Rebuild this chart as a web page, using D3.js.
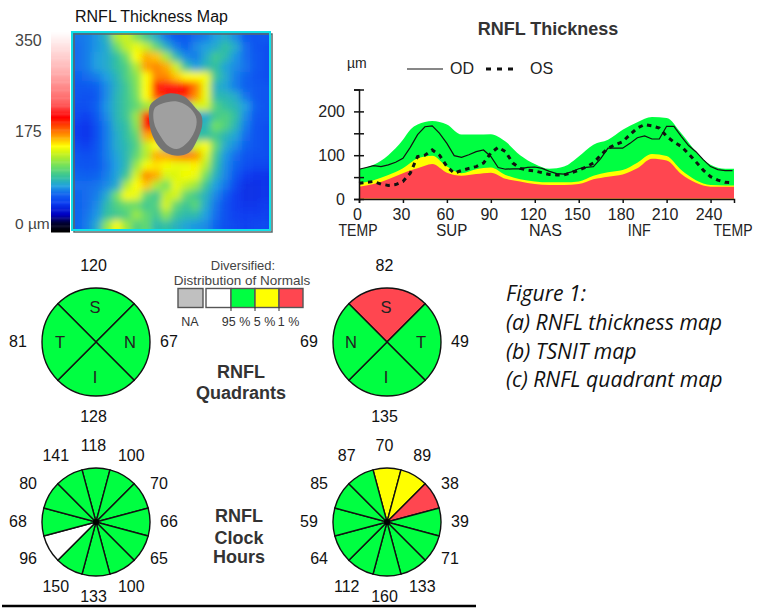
<!DOCTYPE html>
<html>
<head>
<meta charset="utf-8">
<style>
  html, body { margin: 0; padding: 0; background: #fff; }
  text { font-family: "Liberation Sans", Arial, sans-serif; fill: #111; }
</style>
</head>
<body>
<div id="chart"></div>
<script src="https://cdn.jsdelivr.net/npm/d3@7"></script>
<script>
// thickness map, um, read on a 20 x 20 grid
var mapValues = [
  [70,72,78,90,130,138,118,100,85,70,62,62,68,72,80,85,75,62,60,62],
  [68,72,78,85,112,135,145,135,110,88,72,65,75,80,85,95,85,68,60,58],
  [68,72,80,85,95,115,150,165,160,128,92,75,72,85,100,92,78,68,62,58],
  [68,72,80,85,95,105,130,168,172,165,138,95,80,90,95,82,75,70,62,58],
  [65,68,72,80,90,105,120,150,172,172,160,150,150,148,98,85,72,66,60,58],
  [62,62,65,75,88,100,118,150,195,205,205,200,175,145,88,82,72,65,62,60],
  [60,58,62,75,90,100,115,150,185,195,195,190,170,145,92,90,85,70,62,60],
  [58,58,65,78,90,100,110,125,130,100,100,100,140,140,105,95,90,80,65,60],
  [55,52,62,75,90,100,125,200,200,100,100,100,85,85,100,105,95,75,62,60],
  [50,48,58,72,88,95,120,200,200,100,100,100,90,90,115,105,90,72,60,58],
  [50,48,58,72,85,95,110,165,165,100,100,100,95,95,100,90,82,68,60,58],
  [55,52,60,72,85,92,105,135,150,100,100,100,140,150,110,85,75,65,60,58],
  [60,58,62,72,82,92,110,132,165,165,170,175,170,142,100,78,68,60,58,58],
  [62,60,62,70,80,92,125,148,155,148,145,145,152,132,95,75,66,58,54,54],
  [66,64,66,72,82,100,140,172,165,140,142,148,145,115,88,74,60,50,48,48],
  [68,68,70,75,85,130,150,160,130,115,145,135,125,98,80,70,56,46,46,48],
  [66,68,72,85,115,148,145,110,100,135,140,110,100,88,74,62,50,46,46,48],
  [66,68,75,92,105,112,112,100,105,140,110,98,108,85,70,58,50,48,48,50],
  [66,70,78,95,100,105,125,110,100,120,98,92,92,80,68,58,52,50,50,52],
  [66,72,85,122,148,125,105,110,92,95,88,82,78,75,66,58,54,52,54,56]
];
// optic disc outline in grid units
var discOuter = [[7.8,7.7],[8.5,6.8],[9.8,6.2],[11.3,6.5],[12.5,7.7],[13.1,8.5],[13.1,9.7],[12.5,11.2],[11.8,12.2],[10.7,12.5],[9.5,12.2],[8.5,11.2],[7.9,9.7]];
var discInner = [[8.3,7.8],[9.2,7.2],[10.5,7],[11.7,7.5],[12.5,8.5],[12.5,9.7],[11.8,11],[10.7,11.8],[9.7,11.5],[8.8,10.3],[8.3,9.2]];

var heatStops = [0,15,30,50,65,80,95,115,135,150,170,200,225,280,350];
var heatColors = ["#000000","#000030","#0000c0","#0a3cf0","#1060f0","#20a0e0","#30c0a0","#70e060","#c0f020","#ffff00","#ff9000","#ff0000","#ff6060","#ffb0b0","#ffffff"];
var heatTicks = [350,175,0];

// TSNIT profile, sampled every 10 units, last sample at 256
var bandX = [0,10,20,30,35,40,50,60,70,80,90,100,110,120,130,140,150,160,170,180,190,200,210,220,230,240,250,256];
var green = [68,78,100,135,158,170,178,170,147,147,148,131,100,80,69,74,97,124,135,158,175,187,185,150,108,78,69,69];
var yellow = [36,43,55,70,82,93,99,74,59,68,72,55,45,40,38,38,40,53,61,66,83,103,98,66,43,32,31,31];
var red = [28,34,45,59,65,70,80,60,53,57,60,46,40,34,32,32,34,45,51,56,70,92,88,57,37,28,28,28];

var lineX = d3.range(0, 256, 5);
var od = [68,72,76,74,78,84,93,118,147,165,167,150,127,99,95,101,108,112,97,72,68,69,69,72,73,70,63,58,57,62,69,72,74,92,116,116,116,127,140,144,137,137,166,166,143,122,108,90,74,67,65,65];
var os = [36,38,40,34,31,33,40,59,97,100,112,100,74,59,65,70,74,82,105,118,108,82,70,66,64,60,56,55,55,60,66,73,82,100,116,124,131,147,162,170,167,162,143,130,120,103,85,66,51,43,38,37];

var xTicks = [0,30,60,90,120,150,180,210,240];
var yTicks = [0,50,100,150,200,250];
var yLabels = [0,100,200];
var regions = ["TEMP","SUP","NAS","INF","TEMP"];
var regionX = [0,64,128,192,256];
var regionWidths = [39,31,33,23,39];

// quadrants: S, N side, I, T side going clockwise from the top
var quadLeftNames = ["S","N","I","T"];
var quadLeftValues = [120,67,128,81];
var quadLeftClass = ["g","g","g","g"];
var quadRightNames = ["S","T","I","N"];
var quadRightValues = [82,49,135,69];
var quadRightClass = ["r","g","g","g"];

// clock hours, clockwise from 12
var clockLeftValues = [118,100,70,66,65,100,133,150,96,68,80,141];
var clockLeftClass = ["g","g","g","g","g","g","g","g","w","g","g","g"];
var clockRightValues = [70,89,38,39,71,133,160,112,64,59,85,87];
var clockRightClass = ["y","y","r","g","g","g","g","g","g","g","g","g"];

var classColor = {g: "#00ff41", y: "#ffff00", r: "#ff4650", w: "#ffffff", n: "#c0c0c0"};
var legendClass = ["n","w","g","y","r"];
var legendLabels = ["NA","95 %","5 %","1 %"];

var figureNotes = ["Figure 1:","(a) RNFL thickness map","(b) TSNIT map","(c) RNFL quadrant map"];

var width = 774, height = 609;
var svg = d3.select("#chart").append("svg")
  .attr("width", width).attr("height", height)
  .style("display", "block");

function label(sel, x, y, txt, size, anchor, weight, color) {
  return sel.append("text")
    .attr("x", x).attr("y", y)
    .attr("font-size", size)
    .attr("text-anchor", anchor || "start")
    .attr("font-weight", weight || "normal")
    .style("fill", color || "#111")
    .text(txt);
}

// ---- thickness map ----
var heat = d3.scaleLinear().domain(heatStops).range(heatColors);
var gx = d3.scaleLinear().domain([0, 20]).range([72, 270]);
var gy = d3.scaleLinear().domain([0, 20]).range([32, 230]);

var defs = svg.append("defs");
defs.append("filter").attr("id", "soft")
  .attr("x", "-10%").attr("y", "-10%").attr("width", "120%").attr("height", "120%")
  .append("feGaussianBlur").attr("stdDeviation", 3.5);
defs.append("clipPath").attr("id", "mapClip")
  .append("rect").attr("x", gx(0)).attr("y", gy(0)).attr("width", gx(20) - gx(0)).attr("height", gy(20) - gy(0));

label(svg, 75, 22, "RNFL Thickness Map", 16);

var mapG = svg.append("g").attr("clip-path", "url(#mapClip)")
  .append("g").attr("filter", "url(#soft)");
// one extra ring of cells so the blur does not fade at the frame
d3.range(-2, 22).forEach(function(r) {
  d3.range(-2, 22).forEach(function(c) {
    var rr = Math.max(0, Math.min(19, r)), cc = Math.max(0, Math.min(19, c));
    mapG.append("rect")
      .attr("x", gx(c)).attr("y", gy(r))
      .attr("width", gx(c + 1) - gx(c) + 0.5).attr("height", gy(r + 1) - gy(r) + 0.5)
      .attr("fill", heat(mapValues[rr][cc]));
  });
});

var discLine = d3.line()
  .x(function(d) { return gx(d[0]); })
  .y(function(d) { return gy(d[1]); })
  .curve(d3.curveCardinalClosed);
svg.append("path").attr("d", discLine(discOuter)).attr("fill", "#747474");
svg.append("path").attr("d", discLine(discInner)).attr("fill", "#a0a0a0");

// frame with its small shadow
svg.append("rect").attr("x", gx(0) + 2).attr("y", gy(0) + 2).attr("width", gx(20) - gx(0)).attr("height", gy(20) - gy(0))
  .attr("fill", "none").attr("stroke", "#5a6a6a").attr("stroke-width", 1.5);
svg.append("rect").attr("x", gx(0)).attr("y", gy(0)).attr("width", gx(20) - gx(0)).attr("height", gy(20) - gy(0))
  .attr("fill", "none").attr("stroke", "#10e0e8").attr("stroke-width", 2);

// colour bar
var barY = d3.scaleLinear().domain([0, 350]).range([232, 32]);
svg.selectAll(".bar").data(d3.range(0, 350, 2)).enter().append("rect")
  .attr("class", "bar")
  .attr("x", 51).attr("width", 19)
  .attr("y", function(d) { return barY(d + 2); })
  .attr("height", function(d) { return barY(d) - barY(d + 2) + 0.5; })
  .attr("fill", function(d) { return heat(d); });
label(svg, 15, 46, heatTicks[0], 16, "start", "normal", "#444");
label(svg, 15, 137, heatTicks[1], 16, "start", "normal", "#444");
label(svg, 15, 229, heatTicks[2] + " µm", 15.5, "start", "normal", "#444");

// ---- TSNIT plot ----
var x = d3.scaleLinear().domain([0, 256]).range([359, 734]);
var y = d3.scaleLinear().domain([0, 250]).range([199, 89.5]);

label(svg, 548, 35, "RNFL Thickness", 18, "middle", "bold", "#333");

function bandArea(values) {
  return d3.area()
    .x(function(d, i) { return x(bandX[i]); })
    .y0(y(0))
    .y1(function(d) { return y(d); })
    .curve(d3.curveMonotoneX)(values);
}
svg.append("path").attr("d", bandArea(green)).attr("fill", classColor.g);
svg.append("path").attr("d", bandArea(yellow)).attr("fill", classColor.y);
svg.append("path").attr("d", bandArea(red)).attr("fill", classColor.r);
svg.append("line").attr("x1", x(0)).attr("x2", x(256)).attr("y1", y(0)).attr("y2", y(0))
  .attr("stroke", "#f39a30").attr("stroke-width", 1.5);

var profile = d3.line()
  .x(function(d, i) { return x(lineX[i]); })
  .y(function(d) { return y(d); });
svg.append("path").attr("d", profile(od))
  .attr("fill", "none").attr("stroke", "#111").attr("stroke-width", 1.2);
svg.append("path").attr("d", profile(os))
  .attr("fill", "none").attr("stroke", "#111").attr("stroke-width", 3)
  .attr("stroke-dasharray", "4.5,4.5");

var yAxis = svg.append("g")
  .attr("transform", "translate(" + x(0) + ",0)")
  .call(d3.axisLeft(y).tickValues(yTicks).tickSize(5).tickPadding(9)
    .tickFormat(function(d) { return yLabels.indexOf(d) >= 0 ? d : ""; }));
// y ticks cross the axis line
yAxis.selectAll(".tick line").attr("x2", 5).attr("x1", -5);
var xAxis = svg.append("g")
  .attr("transform", "translate(0," + y(0) + ")")
  .call(d3.axisBottom(x).tickValues(xTicks).tickSize(4).tickPadding(6));
xAxis.selectAll("text").attr("dx", -2);
[xAxis, yAxis].forEach(function(a) {
  a.selectAll("text").attr("font-size", 16).attr("font-family", "Liberation Sans").style("fill", "#222");
  a.selectAll("line").attr("stroke", "#111").attr("stroke-width", 1.5);
  a.select(".domain").attr("stroke", "#111").attr("stroke-width", 1.5);
});

regions.forEach(function(r, i) {
  label(svg, x(regionX[i]) - 1, 236, r, 16, "middle", "normal", "#222")
    .attr("textLength", regionWidths[i]).attr("lengthAdjust", "spacingAndGlyphs");
});

label(svg, 347, 68, "µm", 14, "start", "normal", "#222");
svg.append("line").attr("x1", 407).attr("x2", 443).attr("y1", 69).attr("y2", 69)
  .attr("stroke", "#111").attr("stroke-width", 1.2);
label(svg, 450, 74, "OD", 16, "start", "normal", "#222");
svg.append("line").attr("x1", 486).attr("x2", 519).attr("y1", 69).attr("y2", 69)
  .attr("stroke", "#111").attr("stroke-width", 3).attr("stroke-dasharray", "5,6");
label(svg, 530, 74, "OS", 16, "start", "normal", "#222");

// ---- circle charts ----
var circleR = 54, valueR = 75.5, letterR = 35;
var leftX = 96, rightX = 387, quadY = 342, clockY = 522;
var twoPi = 2 * Math.PI;

function drawPie(cx, cy, values, classes, names) {
  var n = values.length;
  var step = twoPi / n;
  var g = svg.append("g").attr("transform", "translate(" + cx + "," + cy + ")");
  var arc = d3.arc().innerRadius(0).outerRadius(circleR);

  g.selectAll("path").data(values).enter().append("path")
    .attr("d", function(d, i) {
      return arc({startAngle: (i - 0.5) * step, endAngle: (i + 0.5) * step});
    })
    .attr("fill", function(d, i) { return classColor[classes[i]]; })
    .attr("stroke", "#111").attr("stroke-width", 1.4);

  values.forEach(function(v, i) {
    var a = i * step;
    label(g, valueR * Math.sin(a) - 2.5, -valueR * Math.cos(a) + 4.5, v, 16, "middle");
    if (names) {
      label(g, letterR * Math.sin(a) - 1, -letterR * Math.cos(a) + 6, names[i], 16.5, "middle", "normal", "#222");
    }
  });
  if (!names) g.append("circle").attr("r", 3).attr("fill", "#000");
}

drawPie(leftX, quadY, quadLeftValues, quadLeftClass, quadLeftNames);
drawPie(rightX, quadY, quadRightValues, quadRightClass, quadRightNames);
drawPie(leftX, clockY, clockLeftValues, clockLeftClass);
drawPie(rightX, clockY, clockRightValues, clockRightClass);

// ---- distribution legend ----
label(svg, 243, 270, "Diversified:", 13, "middle", "normal", "#444");
label(svg, 242, 285, "Distribution of Normals", 13.5, "middle", "normal", "#444");

var legendEdges = [178, 206, 231, 255, 279, 303];
legendClass.forEach(function(c, i) {
  var x0 = legendEdges[i], x1 = i === 0 ? 203 : legendEdges[i + 1];
  svg.append("rect").attr("x", x0).attr("y", 288.5).attr("width", x1 - x0).attr("height", 19)
    .attr("fill", classColor[c]).attr("stroke", "#555").attr("stroke-width", 1.4);
});
[231, 255, 279].forEach(function(tx) {
  svg.append("line").attr("x1", tx).attr("x2", tx).attr("y1", 307).attr("y2", 311)
    .attr("stroke", "#333").attr("stroke-width", 1);
});
var legendLabelX = [190, 236, 264.5, 288.5];
legendLabels.forEach(function(t, i) {
  label(svg, legendLabelX[i], 326, t, 12.5, "middle", "normal", "#333");
});

// ---- centre titles ----
label(svg, 241, 378, "RNFL", 18, "middle", "bold", "#333");
label(svg, 241, 399, "Quadrants", 18, "middle", "bold", "#333");
label(svg, 239, 522, "RNFL", 18, "middle", "bold", "#333");
label(svg, 239, 544, "Clock", 18, "middle", "bold", "#333");
label(svg, 239, 563, "Hours", 18, "middle", "bold", "#333");

// ---- caption ----
var noteY = [300.5, 330, 359, 387];
figureNotes.forEach(function(t, i) {
  label(svg, 506, noteY[i], t, 21.2, "start", "normal", "#111")
    .style("font-family", "Open Sans").style("font-style", "italic");
});

svg.append("line").attr("x1", 2).attr("x2", 476).attr("y1", 606).attr("y2", 606)
  .attr("stroke", "#000").attr("stroke-width", 2.5);
</script>
</body>
</html>
